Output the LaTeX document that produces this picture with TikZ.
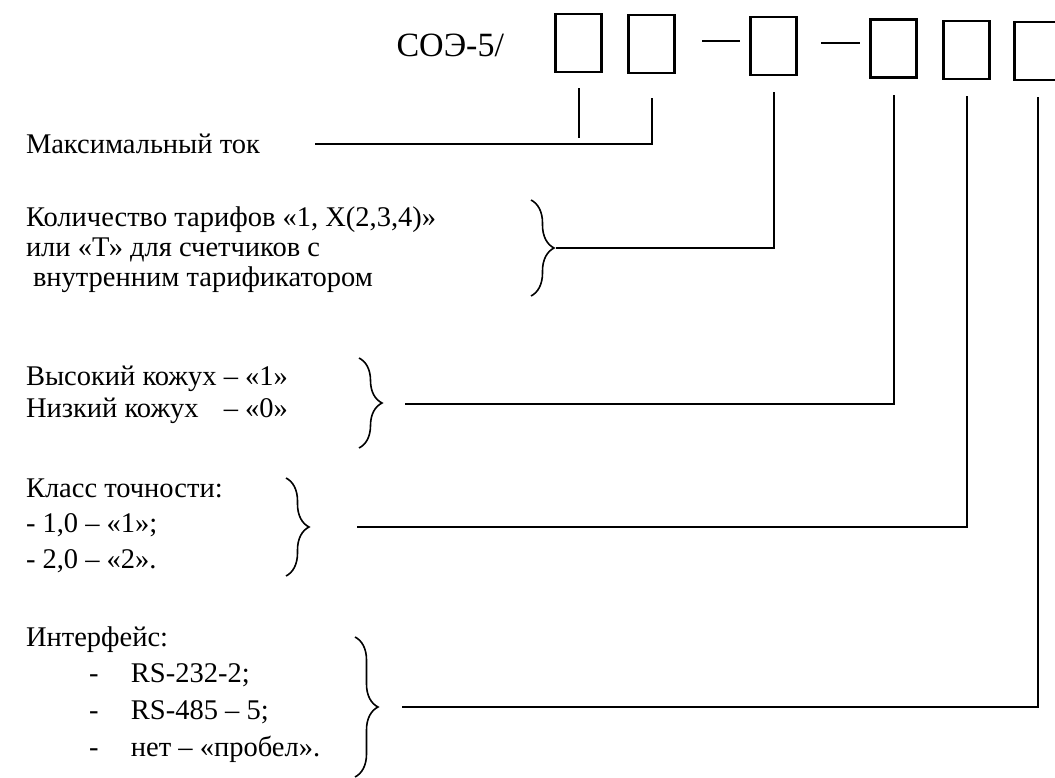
\documentclass[tikz,border=0pt]{standalone}
\usepackage{fontspec}
\setmainfont{Liberation Serif}
\usepackage{tikz}
\usetikzlibrary{decorations.pathreplacing,calc}

\begin{document}
\begin{tikzpicture}[x=1pt,y=-1pt,line width=2pt,
cell/.style={draw,line width=2.2pt,minimum width=46pt,minimum height=58pt,inner sep=0pt},
txt/.style={anchor=base west,inner sep=0pt,font=\fontsize{28.5}{30}\selectfont},
brc/.style={decorate,decoration={brace,amplitude=23pt,aspect=0.5},line width=1.6pt}]
\useasboundingbox(0,0)rectangle(1055,778);
\node[anchor=east,inner sep=0pt,font=\fontsize{34}{36}\selectfont](code)at(505,45){СОЭ-5/};
\node[cell](b1)at(578.5,43){};
\node[cell](b2)at(651.5,44){};
\node[cell](b3)at(773.5,46){};
\node[cell](b4)at(893.5,48.5){};
\node[cell](b5)at(966.5,50){};
\node[cell](b6)at(1037.5,51){};
\draw(702,41)--(740,41)(821,43)--(860,43);
% texts
\node[txt](lmax)at(25,154){Максимальный ток};
\node[txt](lt1)at(25,226){Количество тарифов «1, X(2,3,4)»};
\node[txt](lt2)at(25,257){или «Т» для счетчиков с};
\node[txt](lt3)at(32,287){внутренним тарификатором};
\node[txt](lk1)at(25,385){Высокий кожух – «1»};
\node[txt](lk2)at(25,417){\rlap{Низкий кожух}\hphantom{Высокий кожух} – «0»};
\node[txt](lc1)at(25,497){Класс точности:};
\node[txt](lc2)at(25,532){- 1,0 – «1»;};
\node[txt](lc3)at(25,568){- 2,0 – «2».};
\node[txt](li1)at(25,646){Интерфейс:};
\node[txt](li2)at(88,682){-\hspace{32.5pt}RS-232-2;};
\node[txt](li3)at(88,719){-\hspace{32.5pt}RS-485 – 5;};
\node[txt](li4)at(88,756){-\hspace{32.5pt}нет – «пробел».};
% braces
\draw[brc](531,200)--(531,296);
\draw[brc](359,358)--(359,448);
\draw[brc](286,478)--(286,576);
\draw[brc](355,637)--(355,777);
% leaders
\coordinate(e1)at([yshift=-15pt]b1.south);
\coordinate(e2)at([yshift=-24pt]b2.south);
\coordinate(e3)at([yshift=-16pt]b3.south);
\coordinate(e4)at([yshift=-16pt]b4.south);
\coordinate(e5)at([yshift=-16pt]b5.south);
\coordinate(e6)at([yshift=-16pt]b6.south);
\coordinate(s2)at(315,144);
\coordinate(s3)at(556,248);
\coordinate(s4)at(405,404);
\coordinate(s5)at(357,527);
\coordinate(s6)at(402,707);
\draw(e1)--++(0,50);
\draw(s2)-|(e2);
\draw(s3)-|(e3);
\draw(s4)-|(e4);
\draw(s5)-|(e5);
\draw(s6)-|(e6);
\end{tikzpicture}
\end{document}
